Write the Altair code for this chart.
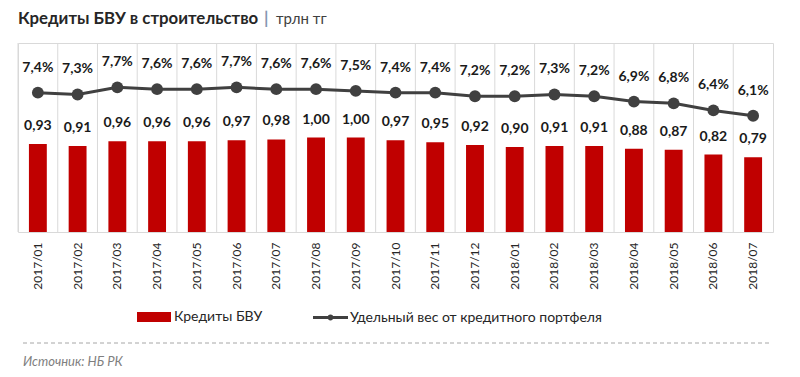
import altair as alt
import pandas as pd

months = ["2017/01", "2017/02", "2017/03", "2017/04", "2017/05", "2017/06", "2017/07",
          "2017/08", "2017/09", "2017/10", "2017/11", "2017/12", "2018/01", "2018/02",
          "2018/03", "2018/04", "2018/05", "2018/06", "2018/07"]
loans = [0.93, 0.91, 0.96, 0.96, 0.96, 0.97, 0.98, 1.00, 1.00, 0.97, 0.95, 0.92,
         0.90, 0.91, 0.91, 0.88, 0.87, 0.82, 0.79]
share = [7.4, 7.3, 7.7, 7.6, 7.6, 7.7, 7.6, 7.6, 7.5, 7.4, 7.4, 7.2,
         7.2, 7.3, 7.2, 6.9, 6.8, 6.4, 6.1]

bar_name = "Кредиты БВУ"
line_name = "Удельный вес от кредитного портфеля"
title_main = "Кредиты БВУ в строительство"
title_sep = "|"
title_unit = "трлн тг"
source_text = "Источник: НБ РК"

FONT = "Lato"
RED = "#C00000"
GREY = "#404040"
W, H = 755, 189

df = pd.DataFrame({"m": months, "v": loans, "p": share})
base = alt.Chart(df)

x_scale = alt.Scale(paddingInner=0, paddingOuter=0)
x_axis = alt.Axis(title=None, labelAngle=-90, labelFontSize=12, labelColor="#262626",
                  labelPadding=10, tickSize=0, ticks=False, domain=False, grid=False,
                  labelFont=FONT)
X = alt.X("m:N", sort=None, scale=x_scale, axis=x_axis)

vgrid = base.mark_rule(color="#d9d9d9", strokeWidth=1).encode(
    x=alt.X("m:N", sort=None, scale=x_scale, axis=x_axis, bandPosition=0)
)

y_bar_scale = alt.Scale(domain=[0, 2.0], nice=False, zero=True)
y_bar_axis = alt.Axis(
    title=None, labels=False, ticks=False, domain=False, grid=True, tickCount=50,
    gridColor={"condition": {"test": "abs(datum.value*5 - round(datum.value*5)) < 0.001",
                             "value": "#dadada"}, "value": "#efefef"},
    gridWidth=1,
)

bar_legend = alt.Legend(
    title=None, orient="none", legendX=119, legendY=257,
    symbolType="M-1,-0.3H1V0.3H-1Z", symbolSize=1156, symbolStrokeWidth=0,
    symbolFillColor=RED, symbolStrokeColor=RED, symbolOpacity=1,
    labelFontSize=14, labelFont=FONT, labelColor="#262626", labelOffset=3, padding=0,
    labelLimit=400,
)
line_legend = alt.Legend(
    title=None, orient="none", legendX=295, legendY=257,
    symbolType="M-1,-0.09H1V0.09H-1Z M0.17,0A0.17,0.17,0,1,1,-0.17,0A0.17,0.17,0,1,1,0.17,0Z",
    symbolSize=1225, symbolStrokeWidth=0,
    symbolFillColor=GREY, symbolStrokeColor=GREY, symbolOpacity=1,
    labelFontSize=14, labelFont=FONT, labelColor="#262626", labelOffset=2, padding=0,
    labelLimit=400,
)

bars = base.transform_calculate(s1=f"'{bar_name}'").mark_bar(
    width=alt.RelativeBandSize(0.45)
).encode(
    x=X,
    y=alt.Y("v:Q", scale=y_bar_scale, axis=y_bar_axis),
    color=alt.Color("s1:N", scale=alt.Scale(domain=[bar_name], range=[RED]), legend=bar_legend),
)
bar_text = base.transform_calculate(
    lbl="replace(format(datum.v, '.2f'), '.', ',')"
).mark_text(dy=-18, fontSize=14, fontWeight="bold", color="#1a1a1a", font=FONT,
            baseline="middle").encode(
    x=X, y=alt.Y("v:Q", scale=y_bar_scale, axis=None), text="lbl:N"
)
bar_group = alt.layer(bars, bar_text)

y_line_scale = alt.Scale(domain=[-0.45, 10.2], nice=False, zero=False)
line = base.transform_calculate(s2=f"'{line_name}'").mark_line(
    strokeWidth=3, point=alt.OverlayMarkDef(filled=True, size=140)
).encode(
    x=X,
    y=alt.Y("p:Q", scale=y_line_scale, axis=None),
    color=alt.Color("s2:N", scale=alt.Scale(domain=[line_name], range=[GREY]), legend=line_legend),
)
line_text = base.transform_calculate(
    lbl="replace(format(datum.p, '.1f'), '.', ',') + '%'"
).mark_text(dy=-25, fontSize=14, fontWeight="bold", color="#1a1a1a", font=FONT,
            baseline="middle").encode(
    x=X, y=alt.Y("p:Q", scale=y_line_scale, axis=None), text="lbl:N"
)
line_group = alt.layer(line, line_text)

TY = -19.5
t1 = alt.Chart(pd.DataFrame({"t": [title_main]})).mark_text(
    align="left", baseline="alphabetic", fontSize=16.8, fontWeight="bold",
    color="#262626", font=FONT
).encode(x=alt.value(0), y=alt.value(TY), text="t:N")
t2 = alt.Chart(pd.DataFrame({"t": [title_sep]})).mark_text(
    align="left", baseline="alphabetic", fontSize=17, fontWeight="bold",
    color="#8496b0", font=FONT
).encode(x=alt.value(246), y=alt.value(TY), text="t:N")
t3 = alt.Chart(pd.DataFrame({"t": [title_unit]})).mark_text(
    align="left", baseline="alphabetic", fontSize=15, color="#404040", font=FONT
).encode(x=alt.value(258), y=alt.value(TY), text="t:N")

sep = alt.Chart(pd.DataFrame({"a": [0]})).mark_rule(
    color="#a6a6a6", strokeDash=[4, 3], strokeWidth=1
).encode(x=alt.value(5), x2=alt.value(752), y=alt.value(300))

src = alt.Chart(pd.DataFrame({"t": [source_text]})).mark_text(
    align="left", baseline="middle", fontSize=13, fontStyle="italic",
    color="#7f7f7f", font=FONT
).encode(x=alt.value(5), y=alt.value(319), text="t:N")

chart = alt.layer(vgrid, bar_group, line_group, t1, t2, t3, sep, src).resolve_scale(
    y="independent", color="independent"
).properties(
    width=W, height=H,
    padding={"left": 10, "top": 35, "right": 19, "bottom": 137},
    autosize=alt.AutoSizeParams(type="none"),
    background="white",
).configure_view(stroke="#d9d9d9", strokeWidth=1)

chart.save("out.html", embed_options={"renderer": "svg", "actions": False})
